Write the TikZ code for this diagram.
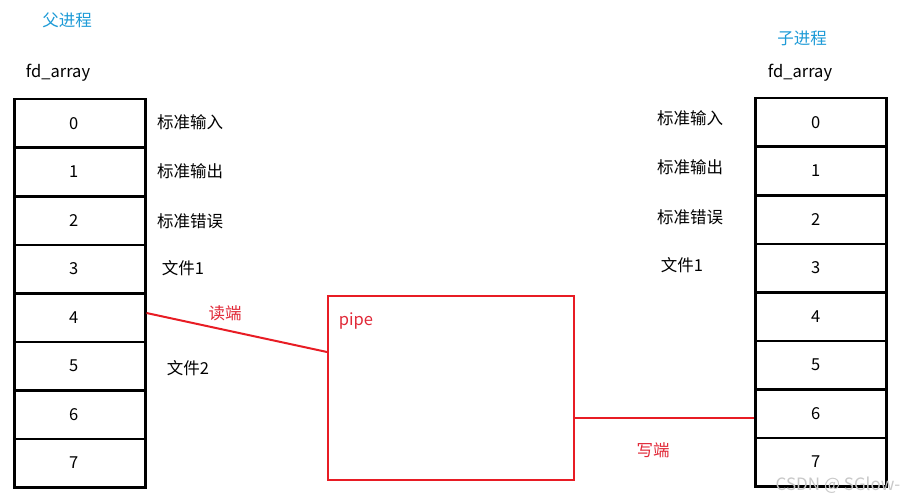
\documentclass[tikz,border=0pt]{standalone}
\usepackage{fontspec}
\setmainfont{Noto Sans CJK SC}
\begin{document}
\begin{tikzpicture}[x=1pt,y=-1pt,
  every node/.style={font=\fontsize{16.5}{19}\selectfont, inner sep=0pt},
  cell/.style={draw=black, line width=2.5pt, minimum width=131pt, minimum height=48.5pt, anchor=north west},
  lbl/.style={text=black},
  blue lbl/.style={text=procblue},
  red lbl/.style={text=labelred},
  redline/.style={draw=linered, line width=2pt}]
\definecolor{procblue}{RGB}{30,155,215}
\definecolor{labelred}{RGB}{225,40,55}
\definecolor{linered}{RGB}{232,28,36}
\definecolor{wmgray}{RGB}{200,200,200}
\useasboundingbox (0,0) rectangle (902,500);
\fill[white] (0,0) rectangle (902,500);
% left table
\foreach \i in {0,...,7} {
  \node[cell] (L\i) at (13,{98+48.5*\i}) {};
  \node at ([xshift=-6pt]L\i.center) {\i};
}
% right table
\foreach \i in {0,...,7} {
  \node[cell] (R\i) at (754,{97+48.5*\i}) {};
  \node at ([xshift=-5pt]R\i.center) {\i};
}
% titles
\node[blue lbl] (ptitle) at (67,20) {父进程};
\node[blue lbl] (ctitle) at (802,38) {子进程};
\node[lbl] (pfd) at (58,73) {fd\_array};
\node[lbl] (cfd) at (800,73) {fd\_array};
% left labels
\node[lbl] (l0) at (190,122) {标准输入};
\node[lbl] (l1) at (190,171) {标准输出};
\node[lbl] (l2) at (190,221) {标准错误};
\node[lbl] (l3) at (183,268) {文件1};
\node[lbl] (l5) at (188,368) {文件2};
% right labels
\node[lbl] (r0) at (690,118) {标准输入};
\node[lbl] (r1) at (690,167) {标准输出};
\node[lbl] (r2) at (690,217) {标准错误};
\node[lbl] (r3) at (682,265) {文件1};
% pipe
\node[draw=linered, line width=2pt, minimum width=246pt, minimum height=184pt, anchor=north west] (pipe) at (327,295) {};
\node[red lbl] (pipelbl) at (356,321) {pipe};
% connectors
\coordinate (rdstart) at (L4.east |- 0,313);
\coordinate (rdend) at (pipe.west |- 0,352);
\draw[redline] (rdstart) -- (rdend);
\coordinate (wrs) at (pipe.east |- 0,418);
\draw[redline] (wrs) -- (R6.west |- wrs);
\node[red lbl] (readlbl) at (225,313) {读端};
\node[red lbl] (writelbl) at (653,450) {写端};
% watermark
\node[text=wmgray, font=\fontsize{17}{19}\selectfont] (wm) at (838,485) {CSDN @ SGlow-};
\end{tikzpicture}
\end{document}
